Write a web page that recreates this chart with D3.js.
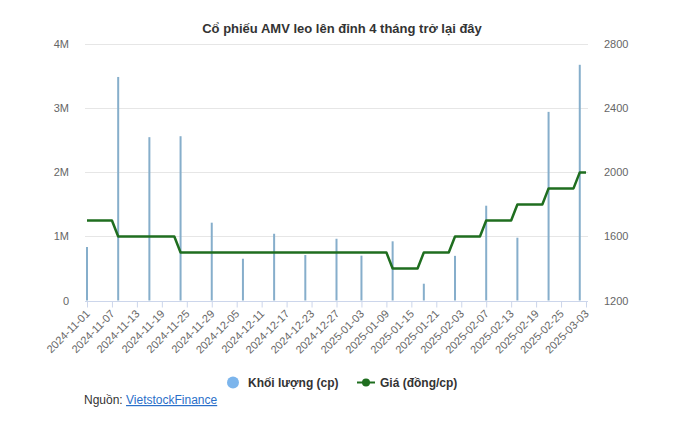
<!DOCTYPE html>
<html><head><meta charset="utf-8">
<script src="https://cdn.jsdelivr.net/npm/d3@7"></script>
<style>
body{margin:0;background:#fff;}
svg{display:block;font-family:"Liberation Sans",Arial,sans-serif;}
</style></head>
<body>
<div id="chart"></div>
<script>
// Trading days (categories)
const dates = [
"2024-11-01","2024-11-04","2024-11-05","2024-11-06","2024-11-07","2024-11-08","2024-11-11","2024-11-12","2024-11-13","2024-11-14",
"2024-11-15","2024-11-18","2024-11-19","2024-11-20","2024-11-21","2024-11-22","2024-11-25","2024-11-26","2024-11-27","2024-11-28",
"2024-11-29","2024-12-02","2024-12-03","2024-12-04","2024-12-05","2024-12-06","2024-12-09","2024-12-10","2024-12-11","2024-12-12",
"2024-12-13","2024-12-16","2024-12-17","2024-12-18","2024-12-19","2024-12-20","2024-12-23","2024-12-24","2024-12-25","2024-12-26",
"2024-12-27","2024-12-30","2024-12-31","2025-01-02","2025-01-03","2025-01-06","2025-01-07","2025-01-08","2025-01-09","2025-01-10",
"2025-01-13","2025-01-14","2025-01-15","2025-01-16","2025-01-17","2025-01-20","2025-01-21","2025-01-22","2025-01-23","2025-01-24",
"2025-02-03","2025-02-04","2025-02-05","2025-02-06","2025-02-07","2025-02-10","2025-02-11","2025-02-12","2025-02-13","2025-02-14",
"2025-02-17","2025-02-18","2025-02-19","2025-02-20","2025-02-21","2025-02-24","2025-02-25","2025-02-26","2025-02-27","2025-02-28",
"2025-03-03"];

// Price (đồng/cp) per trading day
const price = [
1700,1700,1700,1700,1700,1600,1600,1600,1600,1600,
1600,1600,1600,1600,1600,1500,1500,1500,1500,1500,
1500,1500,1500,1500,1500,1500,1500,1500,1500,1500,
1500,1500,1500,1500,1500,1500,1500,1500,1500,1500,
1500,1500,1500,1500,1500,1500,1500,1500,1500,1400,
1400,1400,1400,1400,1500,1500,1500,1500,1500,1600,
1600,1600,1600,1600,1700,1700,1700,1700,1700,1800,
1800,1800,1800,1800,1900,1900,1900,1900,1900,2000,
2000];

// Volume (cp), reported on these days
const volumeDates = ["2024-11-01","2024-11-08","2024-11-15","2024-11-22","2024-11-29","2024-12-06","2024-12-13","2024-12-20","2024-12-27",
"2025-01-03","2025-01-10","2025-01-17","2025-01-24","2025-02-07","2025-02-14","2025-02-21","2025-02-28"];
const volume = [835000,3490000,2550000,2565000,1215000,652000,1042000,710000,964000,
700000,924000,262000,697000,1480000,980000,2945000,3680000];

const leftTicks = [0,1000000,2000000,3000000,4000000];
const rightTicks = [1200,1600,2000,2400,2800];
const xTickLabels = dates.filter((d,i)=>i%4===0);

const W=685,H=432;
const pL=87,pR=586,pT=44.3,pB=300.5;
const svg=d3.select("#chart").append("svg").attr("width",W).attr("height",H);

const x=d3.scalePoint().domain(dates).range([pL,pR]);
const yL=d3.scaleLinear().domain([0,4000000]).range([pB,pT]);
const yR=d3.scaleLinear().domain([1200,2800]).range([pB,pT]);

// title
svg.append("text").attr("x",342).attr("y",33).attr("text-anchor","middle")
 .attr("font-size",13).attr("font-weight","bold").attr("fill","#333")
 .text("Cổ phiếu AMV leo lên đỉnh 4 tháng trở lại đây");

// grid
svg.append("g").selectAll("line").data(leftTicks.slice(1)).join("line")
 .attr("x1",pL-2).attr("x2",pR+2).attr("y1",d=>Math.round(yL(d))+0.5).attr("y2",d=>Math.round(yL(d))+0.5)
 .attr("stroke","#e6e6e6").attr("stroke-width",1);

// left axis
const gL=svg.append("g").attr("transform",`translate(${pL-2},0)`)
 .call(d3.axisLeft(yL).tickValues(leftTicks).tickSize(0).tickPadding(16)
 .tickFormat(d=>d===0?"0":(d/1e6)+"M"));
gL.select(".domain").remove();
gL.selectAll("text").attr("font-size",11).attr("fill","#666").attr("font-family","Liberation Sans, Arial, sans-serif");

// right axis
const gR=svg.append("g").attr("transform",`translate(${pR+2},0)`)
 .call(d3.axisRight(yR).tickValues(rightTicks).tickSize(0).tickPadding(16).tickFormat(d=>String(d)));
gR.select(".domain").remove();
gR.selectAll("text").attr("font-size",11).attr("fill","#666").attr("font-family","Liberation Sans, Arial, sans-serif");

// x axis
const gX=svg.append("g").attr("transform",`translate(0,${Math.round(pB)+0.5})`)
 .call(d3.axisBottom(x).tickValues(xTickLabels).tickSize(6).tickSizeOuter(0));
gX.select(".domain").attr("stroke","#ccd6eb").attr("d",`M${pL-2},0H${pR+2}`);
gX.selectAll(".tick line").attr("stroke","#ccd6eb");
gX.selectAll("text").attr("font-size",11).attr("fill","#666").attr("font-family","Liberation Sans, Arial, sans-serif")
 .attr("text-anchor","end").attr("dy",null).attr("y",0)
 .attr("transform","translate(3,13) rotate(-45)");

// bars
svg.append("g").selectAll("rect").data(volumeDates.map((d,i)=>({d,v:volume[i]}))).join("rect")
 .attr("x",d=>x(d.d)-1).attr("width",2)
 .attr("y",d=>yL(d.v)).attr("height",d=>pB-yL(d.v))
 .attr("fill","#86aecb");

// price line
svg.append("path").datum(dates.map((d,i)=>({d,p:price[i]})))
 .attr("fill","none").attr("stroke","#1f6e1f").attr("stroke-width",2.5).attr("stroke-linejoin","round")
 .attr("d",d3.line().x(d=>x(d.d)).y(d=>yR(d.p)));

// legend
const lg=svg.append("g").attr("font-size",12).attr("font-weight","bold").attr("fill","#333");
lg.append("circle").attr("cx",233).attr("cy",382.5).attr("r",6).attr("fill","#7cb5ec");
lg.append("text").attr("x",248).attr("y",387).text("Khối lượng (cp)");
lg.append("line").attr("x1",357).attr("x2",375).attr("y1",382.5).attr("y2",382.5).attr("stroke","#1f6e1f").attr("stroke-width",2);
lg.append("circle").attr("cx",366).attr("cy",382.5).attr("r",4).attr("fill","#1f6e1f");
lg.append("text").attr("x",380).attr("y",387).text("Giá (đồng/cp)");

// source
const src=svg.append("text").attr("x",84).attr("y",404).attr("font-size",12).attr("fill","#333");
src.append("tspan").text("Nguồn: ");
src.append("tspan").attr("fill","#2a6fc9").attr("text-decoration","underline").text("VietstockFinance");
</script>
</body></html>
